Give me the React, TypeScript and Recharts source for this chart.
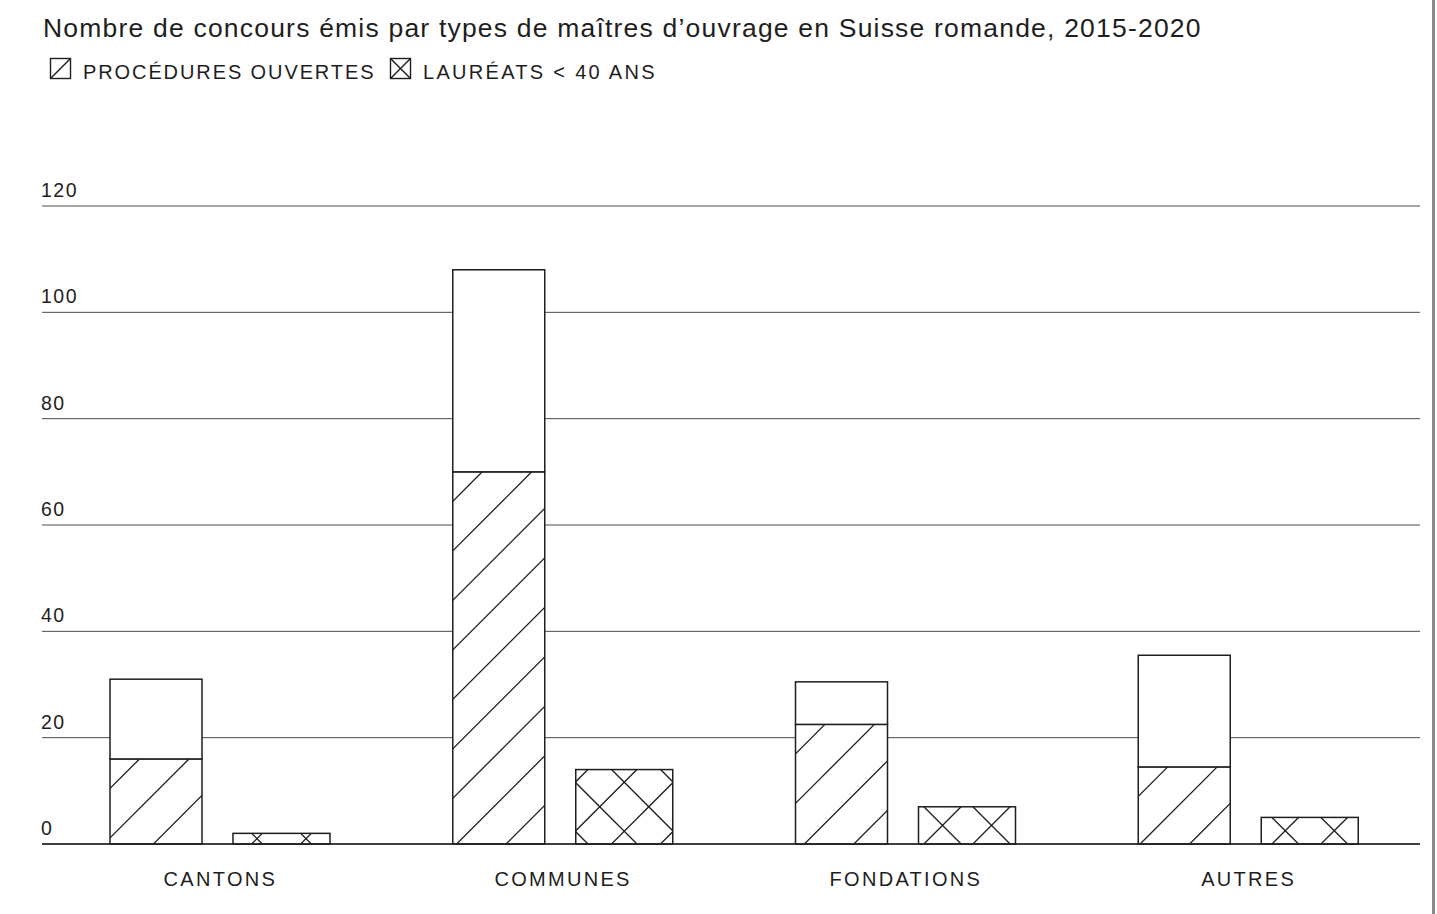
import React from 'react';
import { BarChart, Bar, XAxis, YAxis, CartesianGrid } from 'recharts';

// ---- Data ----
const categories = ['CANTONS', 'COMMUNES', 'FONDATIONS', 'AUTRES'];
const totalConcours = [31, 108, 30.5, 35.5];
const proceduresOuvertes = [16, 70, 22.5, 14.5];
const laureatsMoins40 = [2, 14, 7, 5];
const yTicks = [0, 20, 40, 60, 80, 100, 120];

const titleText =
  'Nombre de concours émis par types de maîtres d’ouvrage en Suisse romande, 2015-2020';
const legendOuvertes = 'PROCÉDURES OUVERTES';
const legendLaureats = 'LAURÉATS < 40 ANS';

const data = categories.map((cat, i) => ({
  cat,
  ouvertes: proceduresOuvertes[i],
  reste: totalConcours[i] - proceduresOuvertes[i],
  laureats: laureatsMoins40[i],
}));

// ---- Styles ----
const INK = '#1e1e1e';
const GRID = '#4a4a4a';
const FONT = '"Liberation Sans", Arial, Helvetica, sans-serif';
const TOTAL_W = 92;
const HATCH = 49.5;
const CROSS = 49;

function HatchBar(props: any) {
  const { x, y, height, index } = props;
  if (!height || height <= 0) return null;
  const w = TOTAL_W;
  const id = `clip-hatch-${index}`;
  const lines: any[] = [];
  for (let d = 29.5; d < w + height; d += HATCH) {
    const c = x + y + d;
    lines.push(
      <line key={d} x1={c - (y + height)} y1={y + height} x2={c - y} y2={y} />
    );
  }
  return (
    <g>
      <defs>
        <clipPath id={id}>
          <rect x={x} y={y} width={w} height={height} />
        </clipPath>
      </defs>
      <rect x={x} y={y} width={w} height={height} fill="#fff" />
      <g clipPath={`url(#${id})`} stroke={INK} strokeWidth={1.3}>
        {lines}
      </g>
      <rect x={x} y={y} width={w} height={height} fill="none" stroke={INK} strokeWidth={1.5} />
    </g>
  );
}

function PlainBar(props: any) {
  const { x, y, height } = props;
  if (!height || height <= 0) return null;
  return (
    <rect x={x} y={y} width={TOTAL_W} height={height} fill="#fff" stroke={INK} strokeWidth={1.5} />
  );
}

function CrossBar(props: any) {
  const { x, y, width, height, index } = props;
  if (!height || height <= 0) return null;
  const cx = x + width / 2;
  const cy = y + height / 2;
  const id = `clip-cross-${index}`;
  const lines: any[] = [];
  for (let k = -8; k <= 8; k++) {
    const s = cx + cy + CROSS / 2 + CROSS * k;
    lines.push(<line key={`a${k}`} x1={s - (y + height)} y1={y + height} x2={s - y} y2={y} />);
    const t = cx - cy + CROSS / 2 + CROSS * k;
    lines.push(<line key={`b${k}`} x1={t + y} y1={y} x2={t + y + height} y2={y + height} />);
  }
  return (
    <g>
      <defs>
        <clipPath id={id}>
          <rect x={x} y={y} width={width} height={height} />
        </clipPath>
      </defs>
      <rect x={x} y={y} width={width} height={height} fill="#fff" />
      <g clipPath={`url(#${id})`} stroke={INK} strokeWidth={1.3}>
        {lines}
      </g>
      <rect x={x} y={y} width={width} height={height} fill="none" stroke={INK} strokeWidth={1.5} />
    </g>
  );
}

function YTick(props: any) {
  const { y, payload } = props;
  return (
    <text x={41} y={y - 9} fill={INK} fontFamily={FONT} fontSize={19.5} letterSpacing={1.5} textAnchor="start">
      {payload.value}
    </text>
  );
}

function XTick(props: any) {
  const { x, y, payload } = props;
  return (
    <text x={x} y={y + 34} fill={INK} fontFamily={FONT} fontSize={20} letterSpacing={2.3} textAnchor="middle">
      {payload.value}
    </text>
  );
}

function Header() {
  return (
    <svg width={1437} height={100} style={{ position: 'absolute', left: 0, top: 0 }}>
      <text x={43} y={37} fill={INK} fontFamily={FONT} fontSize={26.5} letterSpacing={1.2}>
        {titleText}
      </text>
      <g stroke={INK} strokeWidth={1.4} fill="none">
        <rect x={50.5} y={58.5} width={20} height={20} />
        <line x1={50.5} y1={78.5} x2={70.5} y2={58.5} />
        <rect x={390.5} y={58.5} width={20} height={20} />
        <line x1={390.5} y1={78.5} x2={410.5} y2={58.5} />
        <line x1={390.5} y1={58.5} x2={410.5} y2={78.5} />
      </g>
      <text x={83} y={78.5} fill={INK} fontFamily={FONT} fontSize={20} letterSpacing={1.9}>
        {legendOuvertes}
      </text>
      <text x={423} y={78.5} fill={INK} fontFamily={FONT} fontSize={20} letterSpacing={2.3}>
        {legendLaureats}
      </text>
    </svg>
  );
}

export default function App() {
  return (
    <div style={{ position: 'absolute', left: 0, top: 0, width: 1437, height: 914, background: '#fff' }}>
      <BarChart
        width={1437}
        height={914}
        data={data}
        margin={{ top: 206, right: 17, bottom: 0, left: 0 }}
        barSize={97}
        barGap={26}
      >
        <CartesianGrid horizontal vertical={false} stroke={GRID} strokeWidth={1} />
        <YAxis
          domain={[0, 120]}
          ticks={yTicks}
          interval={0}
          width={42}
          axisLine={false}
          tickLine={false}
          tick={<YTick />}
        />
        <XAxis
          dataKey="cat"
          padding={{ left: 7, right: 0 }}
          height={70}
          axisLine={{ stroke: INK, strokeWidth: 1.3 }}
          tickLine={false}
          tick={<XTick />}
          interval={0}
        />
        <Bar dataKey="ouvertes" stackId="a" isAnimationActive={false} shape={<HatchBar />} />
        <Bar dataKey="reste" stackId="a" isAnimationActive={false} shape={<PlainBar />} />
        <Bar dataKey="laureats" stackId="b" isAnimationActive={false} shape={<CrossBar />} />
      </BarChart>
      <Header />
      <div
        style={{ position: 'absolute', left: 1432, top: 0, width: 3, height: 914, background: '#8a8a8a' }}
      />
    </div>
  );
}
